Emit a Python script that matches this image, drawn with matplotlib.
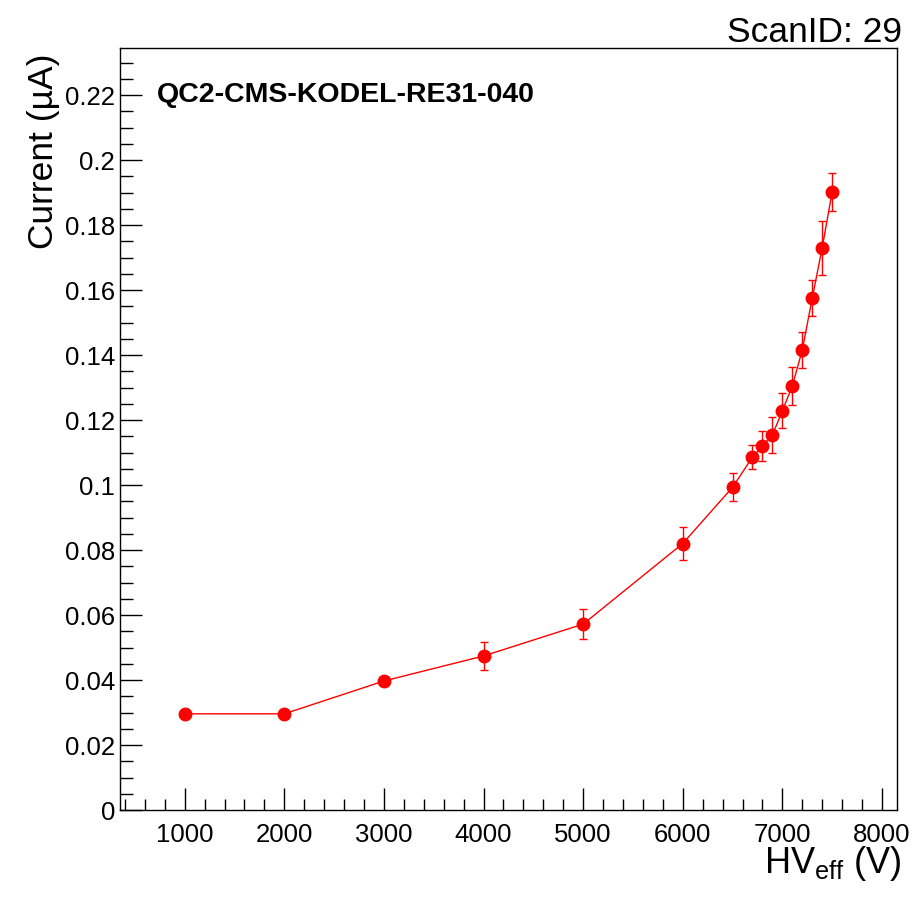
import matplotlib.pyplot as plt
from matplotlib.ticker import MultipleLocator

plt.rcParams['font.family'] = ['Liberation Sans', 'DejaVu Sans']

# HV scan data
hv = [1000, 2000, 3000, 4000, 5000, 6000, 6500, 6700, 6800, 6900,
      7000, 7100, 7200, 7300, 7400, 7500]
current = [0.0296, 0.0296, 0.0397, 0.0474, 0.0572, 0.0820, 0.0993, 0.1086,
           0.1120, 0.1154, 0.1228, 0.1305, 0.1415, 0.1575, 0.1730, 0.1902]
current_err = [0.0005, 0.0005, 0.0008, 0.0042, 0.0046, 0.0050, 0.0043, 0.0037,
               0.0045, 0.0054, 0.0054, 0.0059, 0.0055, 0.0056, 0.0083, 0.0058]

chamber = "QC2-CMS-KODEL-RE31-040"
scan_id = "ScanID: 29"

fig = plt.figure(figsize=(9.18, 9.0), dpi=100)
ax = fig.add_axes([0.1307, 0.1, 0.8463, 0.8467])

ax.errorbar(hv, current, yerr=current_err, color='#ff0000', marker='o',
            markersize=9, linewidth=1, elinewidth=1, capsize=3, capthick=1)

ax.set_xlim(350, 8150)
ax.set_ylim(0, 0.2345)

ax.xaxis.set_major_locator(MultipleLocator(1000))
ax.xaxis.set_minor_locator(MultipleLocator(200))
ax.yaxis.set_major_locator(MultipleLocator(0.02))
ax.yaxis.set_minor_locator(MultipleLocator(0.005))
ax.tick_params(which='both', direction='in', top=False, right=False,
               labelsize=18.5, width=1)
ax.tick_params(which='major', length=16)
ax.tick_params(axis='x', which='minor', length=8)
ax.tick_params(axis='y', which='minor', length=9)
ax.tick_params(axis='x', pad=9)
ax.set_yticks([0, 0.02, 0.04, 0.06, 0.08, 0.1, 0.12, 0.14, 0.16, 0.18, 0.2, 0.22])
ax.set_yticklabels(['0', '0.02', '0.04', '0.06', '0.08', '0.1', '0.12', '0.14',
                    '0.16', '0.18', '0.2', '0.22'])
for s in ax.spines.values():
    s.set_linewidth(1)

ax.set_xlabel(r'HV$_{\mathregular{eff}}$ (V)', fontsize=26, loc='right')
ax.xaxis.set_label_coords(1.006, -0.045)
ax.set_ylabel('Current (µA)', fontsize=25.5, loc='top')
ax.yaxis.set_label_coords(-0.077, 0.993)

ax.text(0.047, 0.938, chamber, transform=ax.transAxes, fontsize=20.5,
        fontweight='bold', va='center')
fig.text(0.983, 0.953, scan_id, fontsize=25.5, ha='right', va='baseline')

fig.savefig('out.png')
